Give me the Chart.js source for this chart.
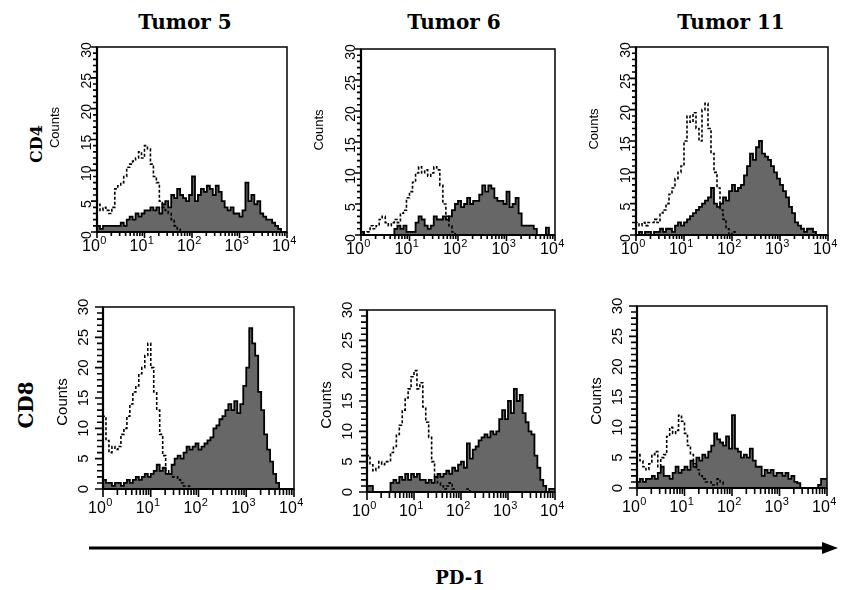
<!DOCTYPE html>
<html>
<head>
<meta charset="utf-8">
<script src="https://cdn.jsdelivr.net/npm/chart.js@4.4.1/dist/chart.umd.min.js"></script>
<style>
  body { margin: 0; background: #fff; }
  #figure { position: relative; width: 844px; height: 590px; overflow: hidden; background: #fff; }
  #figure canvas { position: absolute; }
  .title { position: absolute; font: bold 20px "DejaVu Serif", serif; line-height: 1; transform: translateX(-50%); white-space: nowrap; }
  .row-label { position: absolute; font-family: "DejaVu Serif", serif; font-weight: bold; line-height: 1; transform: translate(-50%, -50%) rotate(-90deg); white-space: nowrap; }
  #axis-name { position: absolute; font: bold 18px "DejaVu Serif", serif; line-height: 1; transform: translate(-50%, -50%); }
  #arrow { position: absolute; left: 0; top: 0; }
</style>
</head>
<body>
<div id="figure">
  <div class="title" style="left:185px; top:12px;">Tumor 5</div>
  <div class="title" style="left:454px; top:12px;">Tumor 6</div>
  <div class="title" style="left:731px; top:12px;">Tumor 11</div>
  <div class="row-label" style="left:37px; top:144px; font-size:16px;">CD4</div>
  <div class="row-label" style="left:26px; top:405px; font-size:20px;">CD8</div>
  <svg id="arrow" width="844" height="590">
    <line x1="89" y1="548" x2="826" y2="548" stroke="#000" stroke-width="3"/>
    <polygon points="822,542 838,548 822,554" fill="#000"/>
  </svg>
  <div id="axis-name" style="left:460px; top:578px;">PD-1</div>
</div>

<script>
// Histogram data: 16 channels per decade, 4 decades (10^0 .. 10^4) -> 64 bins per series
const BINS_PER_DECADE = 16;
const xTickLabels = ['0', '1', '2', '3', '4'];   // exponents shown as 10^n
const yTickValues = [0, 5, 10, 15, 20, 25, 30];

// CD4 / Tumor 5
const isoCd4T5 = [
  5, 4.5, 3.5, 4, 3.5, 3, 4, 7, 7.5, 8, 9, 10.5, 11, 11.5, 12, 13,
  12, 14, 13.5, 11, 9, 8, 5, 4, 3.5, 3, 2, 1, 0.5, 0, 0, 0,
  0, 0, 0, 0, 0, 0, 0, 0, 0, 0, 0, 0, 0, 0, 0, 0,
  0, 0, 0, 0, 0, 0, 0, 0, 0, 0, 0, 0, 0, 0, 0, 0
];
const pd1Cd4T5 = [
  1.5, 1, 0.5, 1, 1, 1, 1, 1, 1, 1.5, 1, 2, 2.5, 2, 3, 2.5,
  3, 3.5, 3.5, 4, 3.5, 4, 3, 4.5, 5, 4, 6, 5.5, 7, 6, 5.5, 5,
  6, 9, 5, 6, 7, 6.5, 7.5, 7, 6, 7.5, 6.5, 5, 4, 3.5, 4, 3,
  3, 2.5, 3.5, 8, 5, 6, 4.5, 5, 3, 2.5, 2, 2, 1.5, 1, 0.5, 0
];

// CD4 / Tumor 6
const isoCd4T6 = [
  0, 0.5, 0, 0.5, 1.5, 1, 1.5, 2.5, 3, 2, 1.5, 2, 2.5, 2, 3.5, 4,
  6, 7, 8.5, 10, 11, 10, 10.5, 9.5, 10, 11, 10.5, 8, 5, 3, 1.5, 0.5,
  0, 0, 0, 0, 0, 0, 0, 0, 0, 0, 0, 0, 0, 0, 0, 0,
  0, 0, 0, 0, 0, 0, 0, 0, 0, 0, 0, 0, 0, 0, 0, 0
];
const pd1Cd4T6 = [
  1, 0.5, 0, 0, 0, 0, 0, 0, 0, 0, 0, 0, 1, 1.5, 1, 1.5,
  0.5, 0.5, 0.5, 2, 3, 2.5, 1.5, 1, 1.5, 3, 2.5, 2.5, 3, 2.5, 3, 4,
  5, 5.5, 4.5, 5, 6, 5, 5.5, 5.5, 6.5, 8, 7, 8, 7.5, 6, 5.5, 5.5,
  5, 7, 4.5, 5, 6, 3.5, 1.5, 1.5, 1.5, 1.5, 1, 0, 0, 0, 1.2, 0
];

// CD4 / Tumor 11
const isoCd4T11 = [
  1, 2, 1.5, 2, 1.5, 2, 2, 2.5, 2, 3.5, 4, 5, 6.5, 7.5, 9, 10,
  11, 15, 19, 18, 19.5, 17, 15, 20, 21, 17, 13, 10, 7.5, 4, 2.5, 1,
  0, 0.5, 0, 0, 0, 0, 0, 0, 0, 0, 0, 0, 0, 0, 0, 0,
  0, 0, 0, 0, 0, 0, 0, 0, 0, 0, 0, 0, 0, 0, 0, 0
];
const pd1Cd4T11 = [
  0.5, 0, 0.5, 0, 0.5, 0.5, 0, 0.5, 0.5, 1, 0.5, 1, 1, 0.5, 1.5, 2,
  1.5, 2, 2.5, 3, 3.5, 4, 4.5, 5, 5.5, 6, 7.5, 5, 4.5, 5, 6, 5.5,
  7, 8, 7, 7.5, 8, 9.5, 11, 13, 12, 14, 15, 13, 12.5, 12, 11, 10,
  9, 8, 7, 6, 4.5, 3.5, 2, 1.5, 1, 0.5, 1, 1, 0.5, 0, 0, 0
];

// CD8 / Tumor 5
const isoCd8T5 = [
  11, 12, 8, 6, 7, 6.5, 7, 9, 10, 12, 14, 16, 17, 19, 20, 22,
  24, 20, 16, 13, 9, 5.5, 3, 2.5, 2, 2, 1.5, 1, 0.5, 0.5, 0, 0,
  0, 0, 0, 0, 0, 0, 0, 0, 0, 0, 0, 0, 0, 0, 0, 0,
  0, 0, 0, 0, 0, 0, 0, 0, 0, 0, 0, 0, 0, 0, 0, 0
];
const pd1Cd8T5 = [
  2, 1.5, 1, 1, 0.5, 1, 1, 0.5, 1, 1.5, 1, 1.5, 2, 1.5, 2, 2.5,
  2, 2.5, 3, 4, 3, 3.5, 2.5, 2.5, 4, 5, 5.5, 5, 6, 7, 6.5, 7,
  7.5, 6.5, 7, 7.5, 8, 8.5, 10, 10.5, 11.5, 12, 13, 14, 13, 14.5, 12.5, 14,
  17, 20, 26.5, 24, 22, 16, 13, 9, 6.5, 4.5, 2.5, 1, 0, 0, 0, 0
];

// CD8 / Tumor 6
const isoCd8T6 = [
  5, 6, 4.5, 3.5, 4, 5, 4.5, 5, 5, 6.5, 7.5, 9.5, 11, 13.5, 15.5, 17,
  19, 20, 17, 18, 14, 11.5, 9, 5, 2.5, 1.5, 1, 0.5, 1, 1.5, 0.5, 0,
  0, 0, 0, 0.5, 0, 0, 0, 0, 0, 0, 0, 0, 0, 0, 0, 0,
  0, 0, 0, 0, 0, 0, 0, 0, 0, 0, 0, 0, 0, 0, 0, 0
];
const pd1Cd8T6 = [
  0.5, 1, 1, 0, 0, 0, 0, 0, 0, 1.5, 2, 1.5, 2.5, 2, 3, 2,
  3, 2.5, 3, 2, 2, 1.5, 2, 1.5, 2.5, 3, 2.5, 3, 3.5, 3, 4, 3.5,
  4.5, 5, 4, 8, 5.5, 7, 7.5, 8.5, 9, 9.5, 9, 10, 9.5, 10, 12, 13.5,
  12, 15, 13, 17, 15, 16, 13, 11.5, 10, 9.5, 6, 4, 2, 1, 0, 0.5
];

// CD8 / Tumor 11
const isoCd8T11 = [
  5, 5.5, 4.5, 3.5, 3, 4, 5.5, 6, 3.5, 5, 5.5, 8.5, 10, 9, 9.5, 12,
  11, 9, 7, 5.5, 4, 3, 2, 1.5, 1, 1, 0.5, 0.5, 1.5, 1, 0, 0,
  0, 0, 0, 0, 0, 0, 0, 0, 0, 0, 0, 0, 0, 0, 0, 0,
  0, 0, 0, 0, 0, 0, 0, 0, 0, 0, 0, 0, 0, 0, 0, 0
];
const pd1Cd8T11 = [
  1.5, 1, 1.5, 1, 1.5, 1.5, 2, 1.5, 2.5, 3.5, 2, 2, 1.5, 2.5, 3.5, 2.5,
  3, 3.5, 3, 4.5, 3.5, 5, 4.5, 5.5, 5, 6, 7, 9, 8, 7.5, 7, 8.5,
  6.5, 12, 6.5, 6, 5, 5.5, 5, 6.5, 4.5, 3.5, 3.5, 2, 3, 2.5, 3, 2,
  2.5, 2.5, 2, 2.5, 1.5, 2, 1, 0.8, 0, 0, 0, 0, 0, 0, 0.5, 1.5
];

// Panel layout: plot box in page pixels [left, top, right, bottom]
const rowStyles = [
  { yFont: 14, yGap: 10, yShift: 3, tickLen: 4, countsFont: 13, countsGap: 42, countsShift: -12, xLabelDrop: 19 },
  { yFont: 15, yGap: 19, yShift: 0, tickLen: 6, countsFont: 15, countsGap: 40, countsShift: 4, xLabelDrop: 24 }
];
const panels = [
  { box: [97, 47, 287, 232], row: 0, iso: isoCd4T5, pd1: pd1Cd4T5 },
  { box: [361, 49, 555, 235], row: 0, iso: isoCd4T6, pd1: pd1Cd4T6 },
  { box: [636, 47, 828, 235], row: 0, iso: isoCd4T11, pd1: pd1Cd4T11 },
  { box: [103, 307, 294, 489], row: 1, iso: isoCd8T5, pd1: pd1Cd8T5 },
  { box: [367, 310, 555, 492], row: 1, iso: isoCd8T6, pd1: pd1Cd8T6 },
  { box: [637, 306, 827, 488], row: 1, iso: isoCd8T11, pd1: pd1Cd8T11 }
];
const MARGIN = { left: 70, top: 12, right: 16, bottom: 36 };

// Bin edges on the log scale (channel -> fluorescence value)
const binEdges = [];
for (let i = 0; i <= 4 * BINS_PER_DECADE; i++) binEdges.push(Math.pow(10, i / BINS_PER_DECADE));

// Convert bin counts into points for a stepped histogram outline
function toSteps(counts) {
  const pts = counts.map((c, i) => ({ x: binEdges[i], y: c }));
  pts.push({ x: binEdges[counts.length], y: counts[counts.length - 1] });
  return pts;
}

// Draws the FACS-style frame, dense ticks and labels
const facsAxes = {
  id: 'facsAxes',
  afterDraw(chart, args, opts) {
    const { ctx, chartArea: a, scales: { x, y } } = chart;
    const st = opts.style;
    ctx.save();
    ctx.strokeStyle = '#000';
    ctx.fillStyle = '#000';

    // frame
    ctx.lineWidth = 1.5;
    ctx.strokeRect(a.left, a.top, a.right - a.left, a.bottom - a.top);
    ctx.lineWidth = 2.2;
    ctx.beginPath();
    ctx.moveTo(a.left, a.top);
    ctx.lineTo(a.left, a.bottom);
    ctx.lineTo(a.right, a.bottom);
    ctx.stroke();

    // y ticks every count, longer every 5
    ctx.lineWidth = 1.6;
    ctx.beginPath();
    for (let v = 0; v <= 30; v++) {
      const py = y.getPixelForValue(v);
      const len = v % 5 === 0 ? st.tickLen + 2 : st.tickLen;
      ctx.moveTo(a.left - len, py);
      ctx.lineTo(a.left, py);
    }
    ctx.stroke();

    // x ticks at 1..9 x 10^d
    ctx.beginPath();
    for (let d = 0; d < 4; d++) {
      for (let k = 1; k <= 9; k++) {
        const px = x.getPixelForValue(k * Math.pow(10, d));
        const len = k === 1 ? st.tickLen + 2 : st.tickLen;
        ctx.moveTo(px, a.bottom);
        ctx.lineTo(px, a.bottom + len);
      }
    }
    const pEnd = x.getPixelForValue(10000);
    ctx.moveTo(pEnd, a.bottom);
    ctx.lineTo(pEnd, a.bottom + st.tickLen + 2);
    ctx.stroke();

    // y labels, rotated
    ctx.font = st.yFont + 'px "Liberation Sans", Arial, sans-serif';
    ctx.textAlign = 'center';
    ctx.textBaseline = 'middle';
    yTickValues.forEach(v => {
      const py = y.getPixelForValue(v) + st.yShift;
      ctx.save();
      ctx.translate(a.left - st.yGap, py);
      ctx.rotate(-Math.PI / 2);
      ctx.fillText(String(v), 0, 0);
      ctx.restore();
    });

    // Counts title
    ctx.save();
    ctx.font = st.countsFont + 'px "Liberation Sans", Arial, sans-serif';
    ctx.translate(a.left - st.countsGap, (a.top + a.bottom) / 2 + st.countsShift);
    ctx.rotate(-Math.PI / 2);
    ctx.fillText('Counts', 0, 0);
    ctx.restore();

    // x labels 10^n
    ctx.textAlign = 'left';
    ctx.textBaseline = 'alphabetic';
    xTickLabels.forEach(exp => {
      const px = x.getPixelForValue(Math.pow(10, Number(exp)));
      ctx.font = '16px "Liberation Sans", Arial, sans-serif';
      const wBase = ctx.measureText('10').width;
      ctx.font = '11px "Liberation Sans", Arial, sans-serif';
      const wExp = ctx.measureText(exp).width;
      const x0 = px - (wBase + wExp) / 2 - 3;
      const base = a.bottom + st.xLabelDrop;
      ctx.font = '16px "Liberation Sans", Arial, sans-serif';
      ctx.fillText('10', x0, base);
      ctx.font = '11px "Liberation Sans", Arial, sans-serif';
      ctx.fillText(exp, x0 + wBase + 0.5, base - 7);
    });
    ctx.restore();
  }
};

const figure = document.getElementById('figure');

panels.forEach(p => {
  const [left, top, right, bottom] = p.box;
  const canvas = document.createElement('canvas');
  const w = right - left + MARGIN.left + MARGIN.right;
  const h = bottom - top + MARGIN.top + MARGIN.bottom;
  canvas.width = w;
  canvas.height = h;
  canvas.style.left = (left - MARGIN.left) + 'px';
  canvas.style.top = (top - MARGIN.top) + 'px';
  canvas.style.width = w + 'px';
  canvas.style.height = h + 'px';
  figure.appendChild(canvas);

  new Chart(canvas, {
    type: 'line',
    data: {
      datasets: [
        {
          label: 'Isotype',
          data: toSteps(p.iso),
          borderColor: '#000',
          borderWidth: 1.6,
          borderDash: [3, 2],
          fill: false,
          stepped: 'after',
          pointRadius: 0,
          order: 0
        },
        {
          label: 'PD-1',
          data: toSteps(p.pd1),
          borderColor: '#000',
          borderWidth: 1.8,
          backgroundColor: '#676767',
          fill: 'origin',
          stepped: 'after',
          pointRadius: 0,
          order: 1
        }
      ]
    },
    options: {
      responsive: false,
      animation: false,
      events: [],
      layout: { padding: { top: MARGIN.top, right: MARGIN.right, left: 0, bottom: 0 } },
      plugins: {
        legend: { display: false },
        tooltip: { enabled: false },
        facsAxes: { style: rowStyles[p.row] }
      },
      scales: {
        x: {
          type: 'logarithmic',
          min: 1,
          max: 10000,
          ticks: { display: false },
          grid: { display: false },
          border: { display: false },
          afterFit: s => { s.height = MARGIN.bottom; }
        },
        y: {
          type: 'linear',
          min: 0,
          max: 30,
          ticks: { display: false },
          grid: { display: false },
          border: { display: false },
          afterFit: s => { s.width = MARGIN.left; }
        }
      }
    },
    plugins: [facsAxes]
  });
});
</script>
</body>
</html>
